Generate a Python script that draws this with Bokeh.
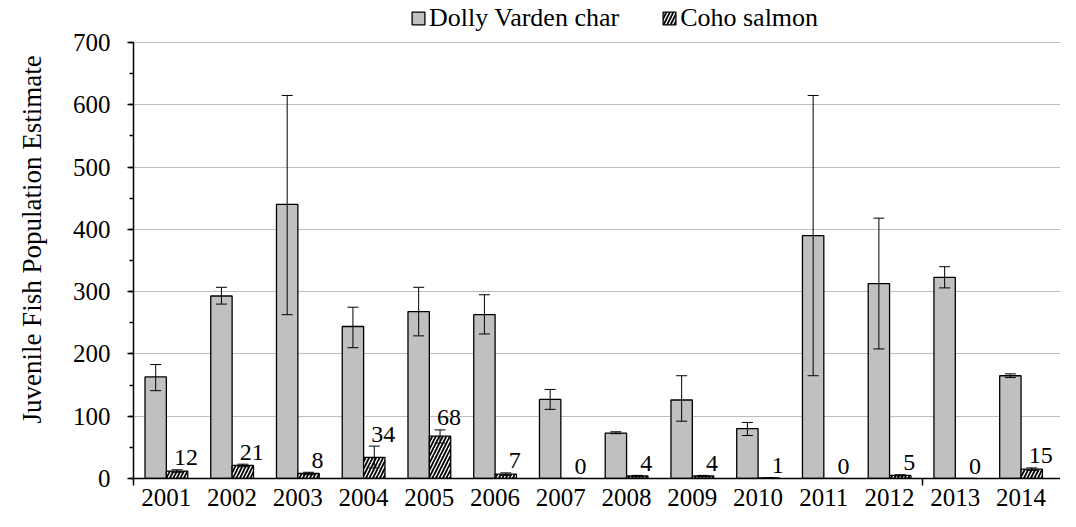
import numpy as np
from bokeh.plotting import figure
from bokeh.models import (ColumnDataSource, Range1d, Whisker, TeeHead, Legend, LegendItem,
                          FixedTicker, SingleIntervalTicker)
from bokeh.core.properties import value
from bokeh.embed import file_html
from bokeh.resources import INLINE

years = ["2001", "2002", "2003", "2004", "2005", "2006", "2007", "2008", "2009", "2010",
         "2011", "2012", "2013", "2014"]
dolly = [163, 293, 440, 244, 268, 263, 127, 73, 126, 80, 390, 313, 323, 165]
dolly_lower = [141, 280, 263, 210, 229, 232, 111, 72, 92, 69, 165, 208, 306, 162]
dolly_upper = [183, 307, 615, 275, 307, 295, 143, 75, 165, 90, 615, 418, 340, 168]
coho = [12, 21, 8, 34, 68, 7, 0, 4, 4, 1, 0, 5, 0, 15]
coho_lower = [10, 19, 6, 17, 57, 5, 0, 3, 3, 1, 0, 4, 0, 13]
coho_upper = [14, 23, 10, 52, 78, 9, 0, 5, 5, 1, 0, 6, 0, 17]
coho_labels = [str(v) for v in coho]

FONT = "Liberation Serif"
bw = 0.325
cx = np.arange(len(years), dtype=float)

src_d = ColumnDataSource(dict(x=cx - bw / 2, top=dolly, lower=dolly_lower, upper=dolly_upper))
src_c = ColumnDataSource(dict(x=cx + bw / 2, top=coho, lower=coho_lower, upper=coho_upper,
                              lab=coho_labels))

H, FB = 511, 33          # figure height, bottom border
frame_h = H - FB         # 478 px
px_per_unit = 436 / 700.0
y_end = frame_h / px_per_unit

p = figure(width=1060, height=H, x_range=Range1d(-0.5, 13.6), y_range=Range1d(0, y_end),
           output_backend="svg", toolbar_location=None,
           min_border_left=133, min_border_right=0, min_border_top=0, min_border_bottom=FB)
p.outline_line_color = None
p.background_fill_color = "white"

r_d = p.vbar(x="x", top="top", width=bw, bottom=0, source=src_d,
             fill_color="#C0C0C0", line_color="black", line_width=1.3)
r_c = p.vbar(x="x", top="top", width=bw, bottom=0, source=src_c,
             fill_color="white", line_color="black", line_width=1.3,
             hatch_pattern="/", hatch_color="black", hatch_scale=7, hatch_weight=1.8)

for src in (src_d, src_c):
    w = Whisker(source=src, base="x", upper="upper", lower="lower", line_width=1,
                line_color="black", level="annotation",
                upper_head=TeeHead(size=11, line_width=1, line_color="black"),
                lower_head=TeeHead(size=11, line_width=1, line_color="black"))
    p.add_layout(w)

p.text(x="x", y="upper", text="lab", source=src_c, x_offset=9, y_offset=-12,
       text_align="center", text_baseline="alphabetic",
       text_font=value(FONT), text_font_size="24px", text_color="black")

# y axis
p.yaxis.ticker = SingleIntervalTicker(interval=100, num_minor_ticks=2)
p.yaxis.bounds = (0, 700)
p.yaxis.major_tick_out = 6
p.yaxis.major_tick_in = 0
p.yaxis.minor_tick_out = 4
p.yaxis.minor_tick_in = 0
p.yaxis.axis_line_width = 1.5
p.yaxis.major_tick_line_width = 1.5
p.yaxis.minor_tick_line_width = 1.5
p.yaxis.major_label_text_font = FONT
p.yaxis.major_label_text_font_size = "25px"
p.yaxis.major_label_text_color = "black"
p.yaxis.major_label_standoff = 17
p.yaxis.axis_label = "Juvenile Fish Population Estimate"
p.yaxis.axis_label_text_font = FONT
p.yaxis.axis_label_text_font_size = "27px"
p.yaxis.axis_label_text_font_style = "normal"
p.yaxis.axis_label_text_color = "black"
p.yaxis.axis_label_standoff = 23

# x axis
p.xaxis.ticker = FixedTicker(ticks=list(cx), minor_ticks=[-0.5, 11.5])
p.xaxis.major_label_overrides = {float(i): y for i, y in enumerate(years)}
p.xaxis.major_tick_out = 0
p.xaxis.major_tick_in = 0
p.xaxis.minor_tick_out = 7
p.xaxis.minor_tick_in = 0
p.xaxis.minor_tick_line_width = 1.5
p.xaxis.axis_line_width = 1.5
p.xaxis.major_label_text_font = FONT
p.xaxis.major_label_text_font_size = "25px"
p.xaxis.major_label_text_color = "black"
p.xaxis.major_label_standoff = 3

p.xgrid.grid_line_color = None
p.ygrid.grid_line_color = "#BEBEBE"
p.ygrid.grid_line_width = 1.2
p.ygrid.bounds = (0, 700)

legend = Legend(items=[LegendItem(label="Dolly Varden char", renderers=[r_d]),
                       LegendItem(label="Coho salmon", renderers=[r_c])],
                orientation="horizontal", location=(277, frame_h - 33),
                label_text_font=FONT, label_text_font_size="26px", label_text_color="black",
                glyph_width=16, glyph_height=16, label_standoff=3, spacing=42,
                padding=0, margin=0, border_line_color=None, background_fill_alpha=0)
p.add_layout(legend, "center")

open("out.html", "w").write(file_html(p, INLINE))
